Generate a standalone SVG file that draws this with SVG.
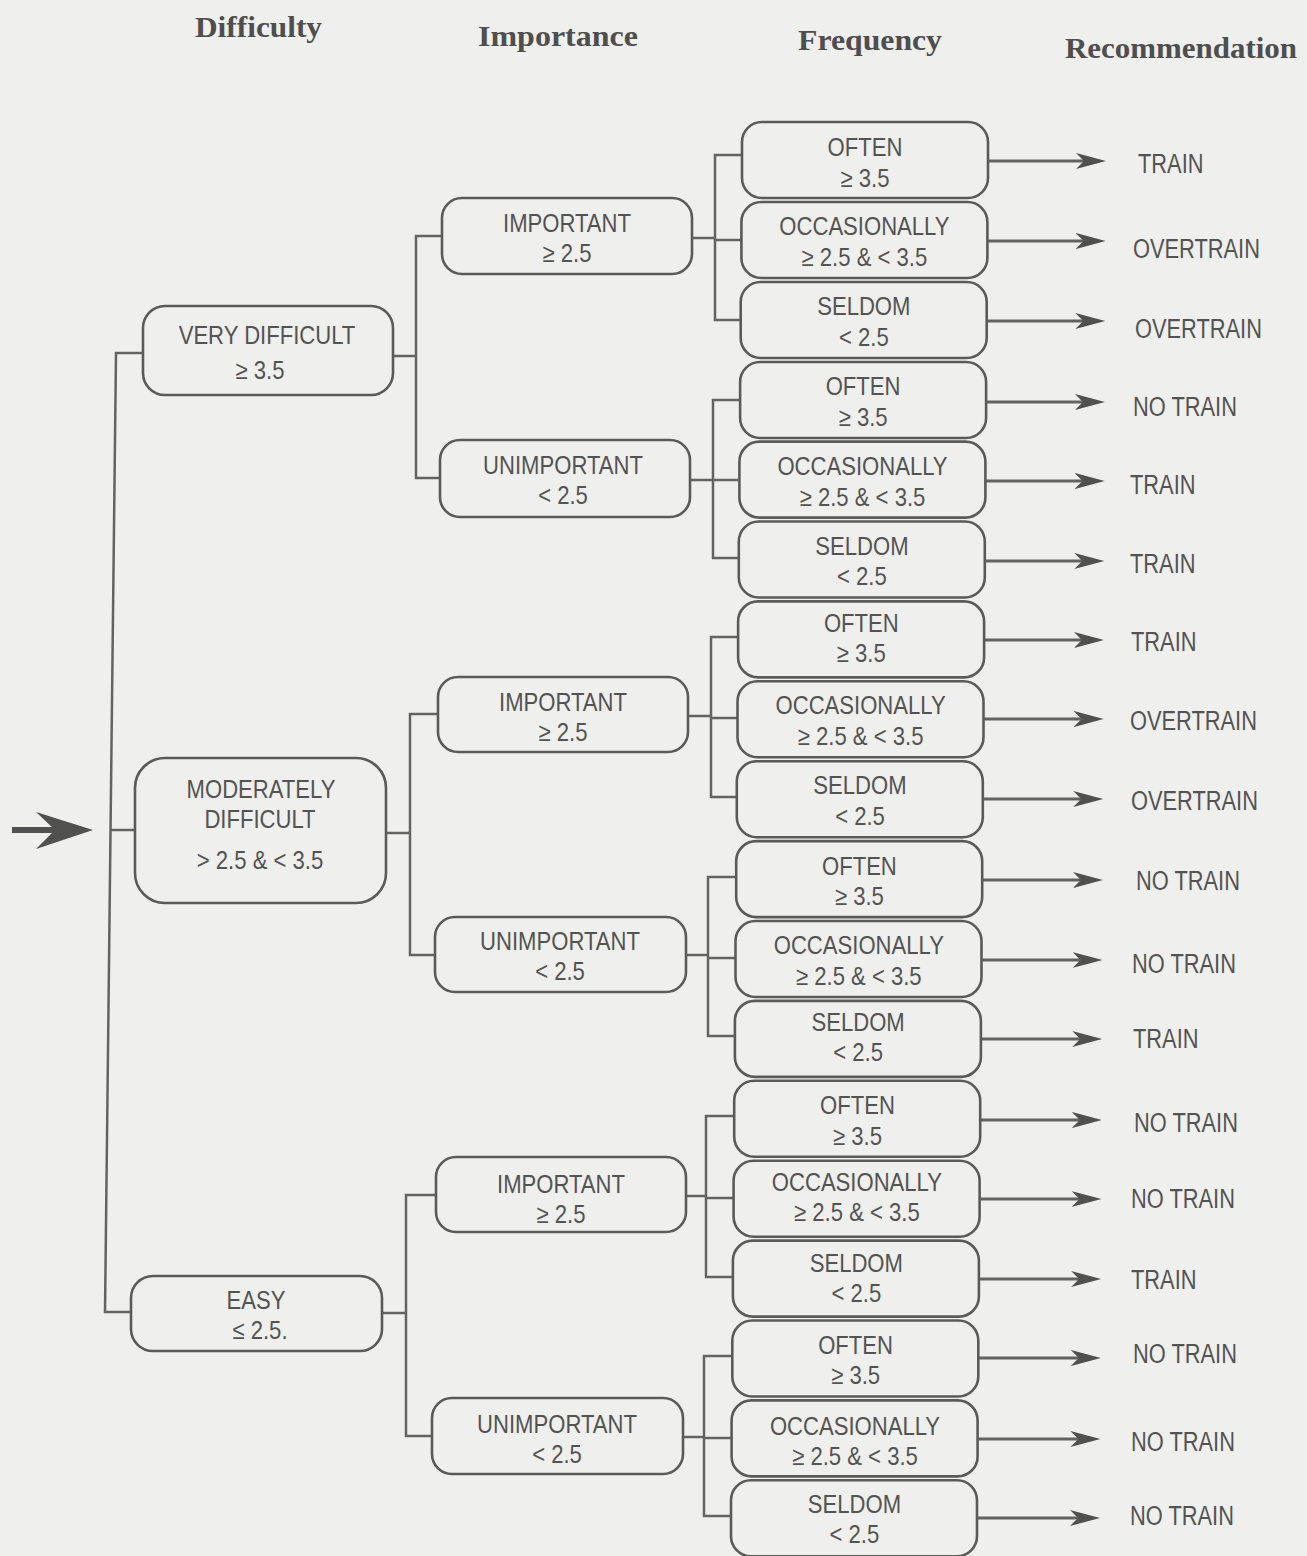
<svg xmlns="http://www.w3.org/2000/svg" width="1307" height="1556" viewBox="0 0 1307 1556">
<style>
.bx{fill:none;stroke:#5a5a5a;stroke-width:2.6}
.t{font-family:"Liberation Sans",Arial,sans-serif;font-size:26px;fill:#535353;text-anchor:middle}
.r{font-family:"Liberation Sans",Arial,sans-serif;font-size:28px;fill:#535353;text-anchor:start}
.h{font-family:"Liberation Serif","Times New Roman",serif;font-size:30px;font-weight:bold;fill:#4e4e4e}
.c{fill:none;stroke:#636363;stroke-width:2.5}
.a{fill:none;stroke:#636363;stroke-width:3}
</style>
<defs>
<marker id="ah" markerUnits="userSpaceOnUse" markerWidth="32" markerHeight="18" refX="8" refY="9" orient="auto">
<path d="M0,1 L30,9 L0,17 L8,9 z" fill="#505050"/>
</marker>
</defs>
<rect width="1307" height="1556" fill="#efefed"/>

<g id="headers">
<text class="h" x="195" y="37" textLength="127" lengthAdjust="spacingAndGlyphs">Difficulty</text>
<text class="h" x="478" y="46" textLength="160" lengthAdjust="spacingAndGlyphs">Importance</text>
<text class="h" x="798" y="50" textLength="144" lengthAdjust="spacingAndGlyphs">Frequency</text>
<text class="h" x="1065" y="58" textLength="232" lengthAdjust="spacingAndGlyphs">Recommendation</text>
</g>

<g id="connectors">
<path class="c" d="M143,353 H116 L105,1312 H131 M110.5,830 H135"/>
<path class="c" d="M393,356 H416 M442,236 H416 V478 H440"/>
<path class="c" d="M386,833 H410 M438,714 H410 V955 H435"/>
<path class="c" d="M382,1313 H406 M436,1195 H406 V1436 H432"/>
<path class="c" d="M692,238 H715 M742,155 H715 V320 H740.7 M715,240 H741.4"/>
<path class="c" d="M690,480 H713 M740.1,400 H713 V558 H738.8 M713,480 H739.4"/>
<path class="c" d="M688,716 H711 M738.1,637 H711 V797 H736.8 M711,718 H737.5"/>
<path class="c" d="M686,955 H708 M736.2,877 H708 V1036 H734.9 M708,958 H735.5"/>
<path class="c" d="M686,1196 H706 M734.2,1116 H706 V1277 H732.9 M706,1198 H733.6"/>
<path class="c" d="M683,1437 H704 M732.3,1356 H704 V1516 H731 M704,1438 H731.6"/>
<path d="M12,830 H58" stroke="#505050" stroke-width="6" fill="none"/>
<path d="M93,830 L36,812 L55,830 L36,849 z" fill="#505050"/>
<path class="a" marker-end="url(#ah)" d="M988,161 H1084"/>
<path class="a" marker-end="url(#ah)" d="M987.4,241 H1083.6"/>
<path class="a" marker-end="url(#ah)" d="M986.8,321 H1083.3"/>
<path class="a" marker-end="url(#ah)" d="M986.2,402 H1082.9"/>
<path class="a" marker-end="url(#ah)" d="M985.6,481 H1082.6"/>
<path class="a" marker-end="url(#ah)" d="M985,561 H1082.3"/>
<path class="a" marker-end="url(#ah)" d="M984.4,640 H1081.9"/>
<path class="a" marker-end="url(#ah)" d="M983.8,719 H1081.6"/>
<path class="a" marker-end="url(#ah)" d="M983.2,799 H1081.2"/>
<path class="a" marker-end="url(#ah)" d="M982.6,880 H1080.9"/>
<path class="a" marker-end="url(#ah)" d="M982,960 H1080.5"/>
<path class="a" marker-end="url(#ah)" d="M981.4,1039 H1080.2"/>
<path class="a" marker-end="url(#ah)" d="M980.8,1120 H1079.8"/>
<path class="a" marker-end="url(#ah)" d="M980.2,1199 H1079.5"/>
<path class="a" marker-end="url(#ah)" d="M979.6,1279 H1079.1"/>
<path class="a" marker-end="url(#ah)" d="M979,1358 H1078.8"/>
<path class="a" marker-end="url(#ah)" d="M978.4,1439 H1078.4"/>
<path class="a" marker-end="url(#ah)" d="M977.8,1518 H1078"/>
</g>

<g id="d-very">
<rect class="bx" x="143" y="306" width="250" height="89" rx="22"/>
<text class="t" transform="translate(267 344) scale(.85 1)">VERY DIFFICULT</text>
<text class="t" transform="translate(260 379) scale(.85 1)">≥ 3.5</text>
</g>
<g id="d-moderate">
<rect class="bx" x="135" y="758" width="251" height="145" rx="30"/>
<text class="t" transform="translate(261 798) scale(.85 1)">MODERATELY</text>
<text class="t" transform="translate(260 828) scale(.85 1)">DIFFICULT</text>
<text class="t" transform="translate(260 869) scale(.85 1)">&gt; 2.5 &amp; &lt; 3.5</text>
</g>
<g id="d-easy">
<rect class="bx" x="131" y="1276" width="251" height="75" rx="22"/>
<text class="t" transform="translate(256 1309) scale(.85 1)">EASY</text>
<text class="t" transform="translate(260 1339) scale(.85 1)">≤ 2.5.</text>
</g>

<g id="i-vd-imp">
<rect class="bx" x="442" y="198" width="250" height="76" rx="20"/>
<text class="t" transform="translate(567 232) scale(.85 1)">IMPORTANT</text>
<text class="t" transform="translate(567 262) scale(.85 1)">≥ 2.5</text>
</g>
<g id="i-vd-unimp">
<rect class="bx" x="440" y="440" width="250" height="77" rx="20"/>
<text class="t" transform="translate(563 474) scale(.85 1)">UNIMPORTANT</text>
<text class="t" transform="translate(563 504) scale(.85 1)">&lt; 2.5</text>
</g>
<g id="i-md-imp">
<rect class="bx" x="438" y="677" width="250" height="75" rx="20"/>
<text class="t" transform="translate(563 711) scale(.85 1)">IMPORTANT</text>
<text class="t" transform="translate(563 741) scale(.85 1)">≥ 2.5</text>
</g>
<g id="i-md-unimp">
<rect class="bx" x="435" y="917" width="251" height="75" rx="20"/>
<text class="t" transform="translate(560 950) scale(.85 1)">UNIMPORTANT</text>
<text class="t" transform="translate(560 980) scale(.85 1)">&lt; 2.5</text>
</g>
<g id="i-e-imp">
<rect class="bx" x="436" y="1157" width="250" height="75" rx="20"/>
<text class="t" transform="translate(561 1193) scale(.85 1)">IMPORTANT</text>
<text class="t" transform="translate(561 1223) scale(.85 1)">≥ 2.5</text>
</g>
<g id="i-e-unimp">
<rect class="bx" x="432" y="1398" width="251" height="76" rx="20"/>
<text class="t" transform="translate(557 1433) scale(.85 1)">UNIMPORTANT</text>
<text class="t" transform="translate(557 1463) scale(.85 1)">&lt; 2.5</text>
</g>

<g id="f0"><rect class="bx" x="742" y="122" width="246" height="76" rx="20"/>
<text class="t" transform="translate(865 156) scale(.85 1)">OFTEN</text>
<text class="t" transform="translate(865 187) scale(.85 1)">≥ 3.5</text></g>
<g id="f1"><rect class="bx" x="741.4" y="202" width="246" height="76" rx="20"/>
<text class="t" transform="translate(864.4 235) scale(.85 1)">OCCASIONALLY</text>
<text class="t" transform="translate(864.4 266) scale(.85 1)">≥ 2.5 &amp; &lt; 3.5</text></g>
<g id="f2"><rect class="bx" x="740.7" y="282" width="246" height="76" rx="20"/>
<text class="t" transform="translate(863.8 315) scale(.85 1)">SELDOM</text>
<text class="t" transform="translate(863.8 346) scale(.85 1)">&lt; 2.5</text></g>
<g id="f3"><rect class="bx" x="740.1" y="362" width="246" height="76" rx="20"/>
<text class="t" transform="translate(863.1 395) scale(.85 1)">OFTEN</text>
<text class="t" transform="translate(863.1 426) scale(.85 1)">≥ 3.5</text></g>
<g id="f4"><rect class="bx" x="739.4" y="441.6" width="246" height="76" rx="20"/>
<text class="t" transform="translate(862.5 475) scale(.85 1)">OCCASIONALLY</text>
<text class="t" transform="translate(862.5 506) scale(.85 1)">≥ 2.5 &amp; &lt; 3.5</text></g>
<g id="f5"><rect class="bx" x="738.8" y="521.5" width="246" height="76" rx="20"/>
<text class="t" transform="translate(861.9 555) scale(.85 1)">SELDOM</text>
<text class="t" transform="translate(861.9 585) scale(.85 1)">&lt; 2.5</text></g>
<g id="f6"><rect class="bx" x="738.1" y="601.4" width="246" height="76" rx="20"/>
<text class="t" transform="translate(861.3 632) scale(.85 1)">OFTEN</text>
<text class="t" transform="translate(861.3 662) scale(.85 1)">≥ 3.5</text></g>
<g id="f7"><rect class="bx" x="737.5" y="681.3" width="246" height="76" rx="20"/>
<text class="t" transform="translate(860.6 714) scale(.85 1)">OCCASIONALLY</text>
<text class="t" transform="translate(860.6 745) scale(.85 1)">≥ 2.5 &amp; &lt; 3.5</text></g>
<g id="f8"><rect class="bx" x="736.8" y="761.2" width="246" height="76" rx="20"/>
<text class="t" transform="translate(860 794) scale(.85 1)">SELDOM</text>
<text class="t" transform="translate(860 825) scale(.85 1)">&lt; 2.5</text></g>
<g id="f9"><rect class="bx" x="736.2" y="841.1" width="246" height="76" rx="20"/>
<text class="t" transform="translate(859.4 875) scale(.85 1)">OFTEN</text>
<text class="t" transform="translate(859.4 905) scale(.85 1)">≥ 3.5</text></g>
<g id="f10"><rect class="bx" x="735.5" y="921" width="246" height="76" rx="20"/>
<text class="t" transform="translate(858.8 954) scale(.85 1)">OCCASIONALLY</text>
<text class="t" transform="translate(858.8 985) scale(.85 1)">≥ 2.5 &amp; &lt; 3.5</text></g>
<g id="f11"><rect class="bx" x="734.9" y="1000.9" width="246" height="76" rx="20"/>
<text class="t" transform="translate(858.1 1031) scale(.85 1)">SELDOM</text>
<text class="t" transform="translate(858.1 1061) scale(.85 1)">&lt; 2.5</text></g>
<g id="f12"><rect class="bx" x="734.2" y="1080.8" width="246" height="76" rx="20"/>
<text class="t" transform="translate(857.5 1114) scale(.85 1)">OFTEN</text>
<text class="t" transform="translate(857.5 1145) scale(.85 1)">≥ 3.5</text></g>
<g id="f13"><rect class="bx" x="733.6" y="1160.7" width="246" height="76" rx="20"/>
<text class="t" transform="translate(856.9 1191) scale(.85 1)">OCCASIONALLY</text>
<text class="t" transform="translate(856.9 1221) scale(.85 1)">≥ 2.5 &amp; &lt; 3.5</text></g>
<g id="f14"><rect class="bx" x="732.9" y="1240.6" width="246" height="76" rx="20"/>
<text class="t" transform="translate(856.3 1272) scale(.85 1)">SELDOM</text>
<text class="t" transform="translate(856.3 1302) scale(.85 1)">&lt; 2.5</text></g>
<g id="f15"><rect class="bx" x="732.3" y="1320.5" width="246" height="76" rx="20"/>
<text class="t" transform="translate(855.6 1354) scale(.85 1)">OFTEN</text>
<text class="t" transform="translate(855.6 1384) scale(.85 1)">≥ 3.5</text></g>
<g id="f16"><rect class="bx" x="731.6" y="1400.4" width="246" height="76" rx="20"/>
<text class="t" transform="translate(855 1435) scale(.85 1)">OCCASIONALLY</text>
<text class="t" transform="translate(855 1465) scale(.85 1)">≥ 2.5 &amp; &lt; 3.5</text></g>
<g id="f17"><rect class="bx" x="731" y="1480.3" width="246" height="76" rx="20"/>
<text class="t" transform="translate(854.4 1513) scale(.85 1)">SELDOM</text>
<text class="t" transform="translate(854.4 1543) scale(.85 1)">&lt; 2.5</text></g>

<g id="recommendations">
<text class="r" transform="translate(1138 173) scale(.78 1)">TRAIN</text>
<text class="r" transform="translate(1133 258) scale(.78 1)">OVERTRAIN</text>
<text class="r" transform="translate(1135 338) scale(.78 1)">OVERTRAIN</text>
<text class="r" transform="translate(1133 416) scale(.78 1)">NO TRAIN</text>
<text class="r" transform="translate(1130 494) scale(.78 1)">TRAIN</text>
<text class="r" transform="translate(1130 573) scale(.78 1)">TRAIN</text>
<text class="r" transform="translate(1131 651) scale(.78 1)">TRAIN</text>
<text class="r" transform="translate(1130 730) scale(.78 1)">OVERTRAIN</text>
<text class="r" transform="translate(1131 810) scale(.78 1)">OVERTRAIN</text>
<text class="r" transform="translate(1136 890) scale(.78 1)">NO TRAIN</text>
<text class="r" transform="translate(1132 973) scale(.78 1)">NO TRAIN</text>
<text class="r" transform="translate(1133 1048) scale(.78 1)">TRAIN</text>
<text class="r" transform="translate(1134 1132) scale(.78 1)">NO TRAIN</text>
<text class="r" transform="translate(1131 1208) scale(.78 1)">NO TRAIN</text>
<text class="r" transform="translate(1131 1289) scale(.78 1)">TRAIN</text>
<text class="r" transform="translate(1133 1363) scale(.78 1)">NO TRAIN</text>
<text class="r" transform="translate(1131 1451) scale(.78 1)">NO TRAIN</text>
<text class="r" transform="translate(1130 1525) scale(.78 1)">NO TRAIN</text>
</g>
</svg>
